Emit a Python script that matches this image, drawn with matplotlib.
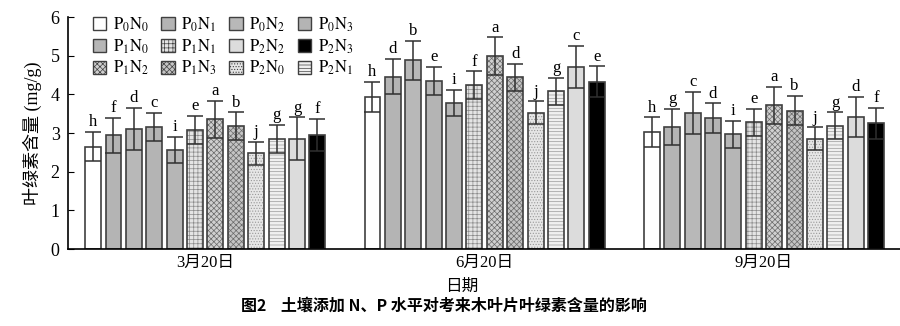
import numpy as np
import matplotlib
matplotlib.use("Agg")
import matplotlib.pyplot as plt
from matplotlib.patches import Patch

plt.rcParams['font.family'] = ['Liberation Serif', 'Noto Sans CJK SC']
plt.rcParams['mathtext.fontset'] = 'stix'
plt.rcParams['hatch.linewidth'] = 0.5

dates = ['3月20日', '6月20日', '9月20日']
treatments = ['P0N0', 'P0N1', 'P0N2', 'P0N3', 'P1N0', 'P1N1',
              'P1N2', 'P1N3', 'P2N0', 'P2N1', 'P2N2', 'P2N3']

# chlorophyll content (mg/g), one row per date
means = [
    [2.65, 2.94, 3.10, 3.16, 2.56, 3.08, 3.35, 3.18, 2.47, 2.85, 2.85, 2.95],
    [3.94, 4.46, 4.88, 4.35, 3.78, 4.24, 4.99, 4.44, 3.52, 4.08, 4.71, 4.33],
    [3.03, 3.16, 3.52, 3.39, 2.97, 3.28, 3.72, 3.58, 2.85, 3.19, 3.41, 3.25],
]
errs = [
    [0.38, 0.46, 0.55, 0.36, 0.34, 0.36, 0.48, 0.36, 0.30, 0.36, 0.56, 0.42],
    [0.39, 0.46, 0.51, 0.36, 0.34, 0.36, 0.48, 0.35, 0.30, 0.35, 0.55, 0.40],
    [0.38, 0.47, 0.55, 0.38, 0.35, 0.35, 0.48, 0.38, 0.30, 0.35, 0.52, 0.40],
]
letters = [
    ['h', 'f', 'd', 'c', 'i', 'e', 'a', 'b', 'j', 'g', 'g', 'f'],
    ['h', 'd', 'b', 'e', 'i', 'f', 'a', 'd', 'j', 'g', 'c', 'e'],
    ['h', 'g', 'c', 'd', 'i', 'e', 'a', 'b', 'j', 'g', 'd', 'f'],
]

# fill colour, hatch and hatch colour per treatment
styles = {
    'P0N0': ('white', '', None),
    'P0N1': ('#b4b4b4', '', None),
    'P0N2': ('#b8b8b8', '', None),
    'P0N3': ('#b4b4b4', '', None),
    'P1N0': ('#b6b6b6', '', None),
    'P1N1': ('#e4e4e4', '++++', '#8a8a8a'),
    'P1N2': ('#d0d0d0', 'xxxxxx', '#6a6a6a'),
    'P1N3': ('#c4c4c4', 'xxxxxx', '#6a6a6a'),
    'P2N0': ('#e6e6e6', '......', '#999999'),
    'P2N1': ('#f0f0f0', '-----', '#9a9a9a'),
    'P2N2': ('#dcdcdc', '', None),
    'P2N3': ('black', '', None),
}
edge = '#404040'

def label(t):
    return r'$\mathrm{P_%sN_%s}$' % (t[1], t[3])

fig = plt.figure(figsize=(9, 3.26), dpi=100)
ax = fig.add_axes([68 / 900, 1 - 249 / 326, 832 / 900, 232 / 326])

group_step = 13.7
width = 0.78
for g in range(len(dates)):
    for i, t in enumerate(treatments):
        x = g * group_step + i
        fc, hatch, hc = styles[t]
        if hatch:
            # hatch layer first, then the dark outline on top
            ax.bar(x, means[g][i], width=width, color=fc, edgecolor=hc,
                   hatch=hatch, linewidth=0, zorder=2)
            ax.bar(x, means[g][i], width=width, fill=False, edgecolor=edge,
                   linewidth=1.2, zorder=2)
        else:
            ax.bar(x, means[g][i], width=width, color=fc, edgecolor=edge,
                   linewidth=1.2, zorder=2)
        ax.errorbar(x, means[g][i], yerr=errs[g][i], fmt='none', ecolor='#303030',
                    elinewidth=1.1, capsize=5.8, capthick=1.1, zorder=3)
        ax.text(x, means[g][i] + errs[g][i] + 0.04, letters[g][i], ha='center',
                va='bottom', fontsize=12)

ax.set_xlim(-1.23, 39.57)
ax.set_ylim(0, 6)
ax.set_yticks(range(7))
ax.tick_params(axis='y', direction='in', length=4, labelsize=13, pad=6)
ax.set_xticks([g * group_step + 5.5 for g in range(3)])
ax.set_xticklabels(dates, fontsize=12)
ax.tick_params(axis='x', length=0, pad=4)
for s in ['top', 'right']:
    ax.spines[s].set_visible(False)
for s in ['left', 'bottom']:
    ax.spines[s].set_linewidth(1.2)
ax.set_ylabel('叶绿素含量 (mg/g)', fontsize=13, labelpad=6)

# legend rows as printed: fill columns in the order matplotlib expects
rows = [['P0N0', 'P0N1', 'P0N2', 'P0N3'],
        ['P1N0', 'P1N1', 'P2N2', 'P2N3'],
        ['P1N2', 'P1N3', 'P2N0', 'P2N1']]
order = [rows[r][c] for c in range(4) for r in range(3)]
handles = [Patch(facecolor=styles[t][0], edgecolor=edge, hatch=styles[t][1],
                 linewidth=1.0, label=label(t)) for t in order]
ax.legend(handles=handles, ncol=4, loc='upper left', bbox_to_anchor=(0.022, 1.035),
          frameon=False, fontsize=12, handlelength=0.8, handleheight=0.8,
          handletextpad=0.4, columnspacing=0.75, labelspacing=0.2, borderaxespad=0)

fig.text(462 / 900, 1 - 287 / 326, '日期', ha='center', va='center', fontsize=12)
fig.text(444 / 900, 1 - 306 / 326, '图2    土壤添加 N、P 水平对考来木叶片叶绿素含量的影响',
         ha='center', va='center', fontsize=11.5, fontweight='bold',
         family=['Noto Sans CJK SC', 'DejaVu Sans'])

fig.savefig('out.png', dpi=100)
